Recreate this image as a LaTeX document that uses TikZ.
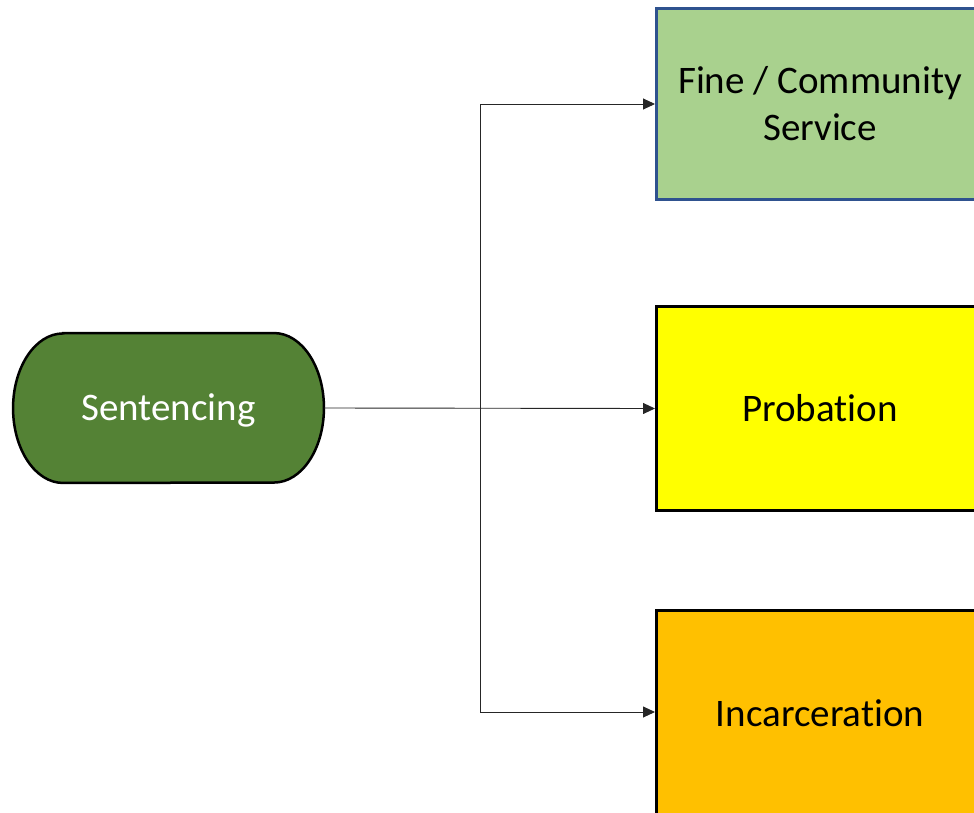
\documentclass[tikz,border=0pt]{standalone}
\usepackage{fontspec}
\setmainfont[Ligatures=NoCommon]{Carlito}
\usetikzlibrary{arrows.meta}
\definecolor{sentgreen}{HTML}{548235}
\definecolor{finegreen}{HTML}{A9D18E}
\definecolor{fineblue}{HTML}{2F528F}
\definecolor{probyellow}{HTML}{FFFF00}
\definecolor{incorange}{HTML}{FFC000}
\begin{document}
\begin{tikzpicture}[
			x=1pt, y=-1pt,
			label font/.style={font=\fontsize{39}{47}\selectfont},
			outcome/.style={rectangle, draw=black, line width=3pt, label font,
					minimum width=327pt, align=center, inner sep=0pt},
			flow/.style={line width=0.9pt, draw=black!85,
					-{Triangle[length=12pt, width=11pt]}}
		]
		\useasboundingbox (0,0) rectangle (974,813);
		\clip (0,0) rectangle (974,813);
		% outcomes on the right
		\node[outcome, fill=finegreen, draw=fineblue, minimum height=191pt] (fine) at (820,104) {Fine / Community\\Service};
		\node[outcome, fill=probyellow, minimum height=204pt] (prob) at (820,408.5) {Probation};
		\node[outcome, fill=incorange, minimum height=205pt] (inc) at (820,713) {Incarceration};
		% terminator on the left
		\node[minimum width=310.5pt, minimum height=149.5pt, inner sep=0pt] (sent) at (168.5,408) {};
		\fill[sentgreen, draw=black, line width=2.5pt]
			([xshift=50pt]sent.north west) -- ([xshift=-50pt]sent.north east)
			arc[start angle=90, end angle=-90, x radius=50pt, y radius=74.75pt]
			-- ([xshift=50pt]sent.south west)
			arc[start angle=270, end angle=90, x radius=50pt, y radius=74.75pt]
			-- cycle;
		\node[label font, text=white] at ([yshift=-2pt]sent.center) {Sentencing};
		% connectors
		\coordinate (fork) at (480,408);
		\draw[flow] (sent.east) -- (prob.west);
		\draw[flow] (fork) |- ([yshift=1pt]inc.west);
		\draw[flow] (fork) |- (fine.west);
	\end{tikzpicture}
\end{document}
